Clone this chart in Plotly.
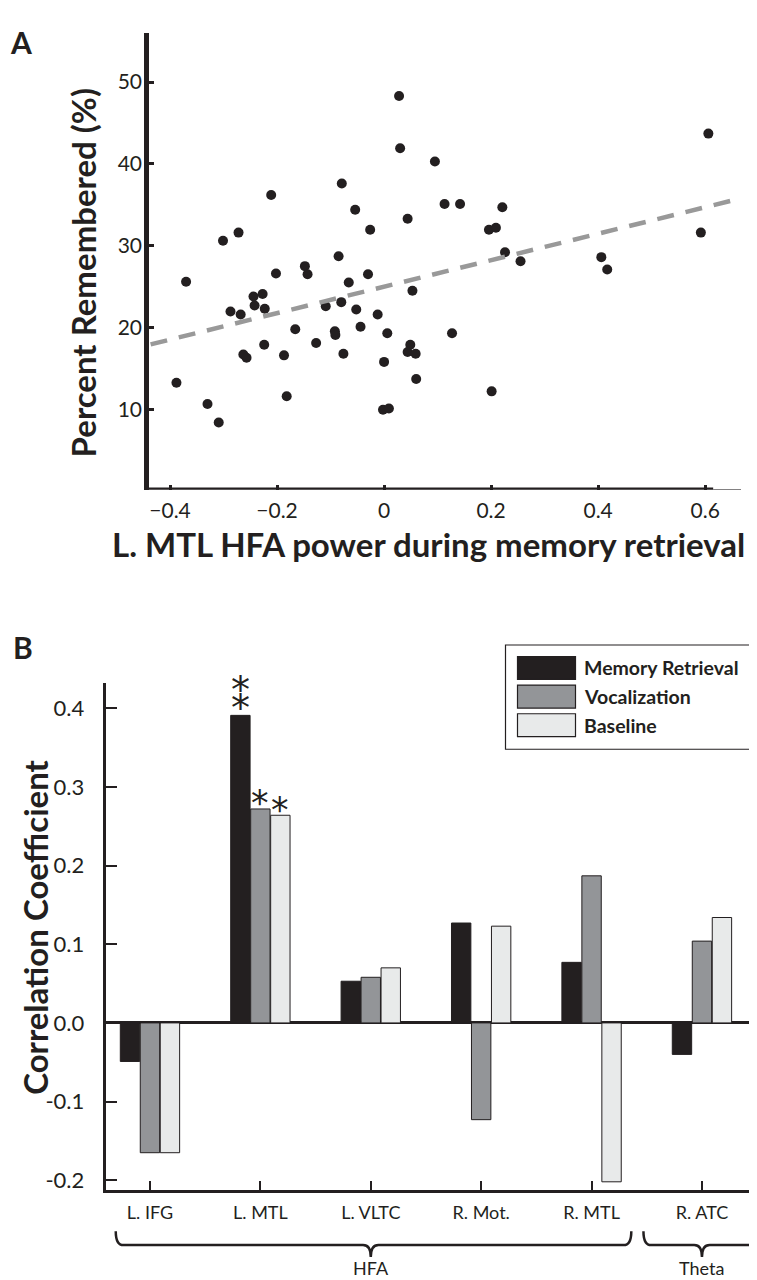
import numpy as np
import plotly.graph_objects as go

# ---------------- Panel A data ----------------
hfa_power = [0.028, 0.030, 0.095, -0.079, -0.211, -0.054, 0.044, -0.026, -0.272, -0.301,
             -0.085, 0.606, 0.113, 0.142, 0.221, 0.196, 0.209, 0.592, 0.226, 0.255,
             0.406, 0.417, 0.127, 0.201, -0.370, -0.202, -0.148, -0.143, -0.030, -0.066,
             0.053, -0.244, -0.227, -0.242, -0.223, -0.287, -0.268, -0.109, -0.080, -0.052,
             -0.012, -0.166, -0.092, -0.091, -0.044, 0.006, -0.127, -0.224, -0.187, -0.076,
             -0.263, -0.257, 0.049, 0.044, 0.059, 0.000, 0.060, -0.388, -0.182, -0.330,
             -0.002, 0.009, -0.309]
pct_remembered = [48.3, 41.9, 40.3, 37.6, 36.2, 34.4, 33.3, 31.95, 31.6, 30.6,
                  28.7, 43.7, 35.1, 35.1, 34.7, 31.95, 32.2, 31.6, 29.2, 28.1,
                  28.6, 27.1, 19.3, 12.2, 25.6, 26.6, 27.5, 26.5, 26.5, 25.5,
                  24.5, 23.8, 24.1, 22.7, 22.3, 21.95, 21.6, 22.6, 23.1, 22.2,
                  21.6, 19.8, 19.55, 19.1, 20.1, 19.3, 18.1, 17.9, 16.6, 16.8,
                  16.7, 16.3, 17.9, 17.0, 16.8, 15.8, 13.7, 13.25, 11.6, 10.65,
                  9.95, 10.1, 8.4]
a_xticks = [-0.4, -0.2, 0, 0.2, 0.4, 0.6]
a_xticklabels = ["\u22120.4", "\u22120.2", "0", "0.2", "0.4", "0.6"]
a_yticks = [10, 20, 30, 40, 50]

# ---------------- Panel B data ----------------
regions = ["L. IFG", "L. MTL", "L. VLTC", "R. Mot.", "R. MTL", "R. ATC"]
memory_retrieval = [-0.049, 0.391, 0.053, 0.127, 0.077, -0.040]
vocalization = [-0.165, 0.272, 0.058, -0.123, 0.187, 0.104]
baseline = [-0.165, 0.264, 0.070, 0.123, -0.202, 0.134]
sig_memory = ["", "**", "", "", "", ""]
sig_vocal = ["", "*", "", "", "", ""]
sig_base = ["", "*", "", "", "", ""]
b_yticks = [-0.2, -0.1, 0.0, 0.1, 0.2, 0.3, 0.4]
b_yticklabels = ["-0.2", "-0.1", "0.0", "0.1", "0.2", "0.3", "0.4"]
band_groups = [("HFA", -0.31, 4.36, 2.0), ("Theta", 4.47, 5.56, 5.0)]

# ---------------- styling ----------------
W, H = 757, 1280
INK = "#231f20"
FONT = "Lato"
C_MEM, C_VOC, C_BASE = "#231f20", "#939598", "#e8eaea"

def px(x):
    return x / W

def py(y):
    return 1 - y / H

fig = go.Figure()

# scatter
fig.add_trace(go.Scatter(
    x=hfa_power, y=pct_remembered, mode="markers",
    marker=dict(color=INK, size=10, line=dict(width=0)),
    xaxis="x", yaxis="y", showlegend=False))

A_XRANGE = [-0.4393, 0.667]
A_YRANGE = [0.16, 56.0]
slope, intercept = np.polyfit(hfa_power, pct_remembered, 1)
fx = np.array([A_XRANGE[0] + 0.003, A_XRANGE[1]])
fig.add_trace(go.Scatter(
    x=fx, y=intercept + slope * fx, mode="lines",
    line=dict(color="#999999", width=4.5, dash="17px,12px"),
    xaxis="x", yaxis="y", showlegend=False))

# bars
BARGAP = 0.457
xpos = list(range(len(regions)))
for name, vals, col in [("Memory Retrieval", memory_retrieval, C_MEM),
                        ("Vocalization", vocalization, C_VOC),
                        ("Baseline", baseline, C_BASE)]:
    fig.add_trace(go.Bar(
        x=xpos, y=vals, name=name, marker=dict(color=col, line=dict(color=INK, width=1)),
        xaxis="x2", yaxis="y2", showlegend=False))

annotations = []
slot = (1 - BARGAP) / 3
for k, sigs, vals in [(-1, sig_memory, memory_retrieval), (0, sig_vocal, vocalization), (1, sig_base, baseline)]:
    for i, s in enumerate(sigs):
        if s == "**":
            annotations.append(dict(
                x=i + k * slot, y=vals[i], xref="x2", yref="y2",
                text="\u2051", showarrow=False, xanchor="center", yanchor="bottom",
                yshift=-6, font=dict(family="DejaVu Sans", size=38, color=INK)))
        elif s:
            annotations.append(dict(
                x=i + k * slot, y=vals[i], xref="x2", yref="y2",
                text=s, showarrow=False, xanchor="center", yanchor="bottom",
                yshift=-16.5, font=dict(family="DejaVu Sans", size=35, color=INK)))

shapes = []
# panel A custom x axis line: thick then thin
shapes.append(dict(type="line", xref="x", yref="y", x0=A_XRANGE[0], x1=0.615,
                   y0=A_YRANGE[0], y1=A_YRANGE[0], line=dict(color=INK, width=4.5)))
shapes.append(dict(type="line", xref="x", yref="y", x0=0.615, x1=A_XRANGE[1],
                   y0=A_YRANGE[0], y1=A_YRANGE[0], line=dict(color=INK, width=1.2)))

# braces
yt, ym, yb = py(1226), py(1240), py(1252)
d = 0.07
for label, x0, x1, tip in band_groups:
    path = (f"M{x0},{yt} Q{x0},{ym} {x0 + d},{ym} L{tip - d},{ym} "
            f"Q{tip},{ym} {tip},{yb} Q{tip},{ym} {tip + d},{ym} "
            f"L{x1 - d},{ym} Q{x1},{ym} {x1},{yt}")
    shapes.append(dict(type="path", xref="x2", yref="paper", path=path,
                       line=dict(color=INK, width=2.5)))
    annotations.append(dict(x=tip, y=py(1263), xref="x2", yref="paper", text=label,
                            showarrow=False, xanchor="center", yanchor="middle",
                            font=dict(family=FONT, size=18, color=INK)))

# manual legend
shapes.append(dict(type="rect", xref="paper", yref="paper", x0=px(497.5), x1=px(743),
                   y0=py(743), y1=py(638.5), line=dict(color=INK, width=1.2), fillcolor="white"))
for i, (name, col) in enumerate([("Memory Retrieval", C_MEM), ("Vocalization", C_VOC), ("Baseline", C_BASE)]):
    top = 650 + i * 28.7
    shapes.append(dict(type="rect", xref="paper", yref="paper", x0=px(509.5), x1=px(567.5),
                       y0=py(top + 23), y1=py(top), fillcolor=col, line=dict(color=INK, width=1.2)))
    annotations.append(dict(x=px(574), y=py(top + 11.5), xref="paper", yref="paper",
                            text=f"<b>{name}</b>", showarrow=False, xanchor="left", yanchor="middle",
                            font=dict(family=FONT, size=19.5, color=INK)))

# titles and panel labels
def label(text, x, y, size, angle=0):
    return dict(x=px(x), y=py(y), xref="paper", yref="paper", showarrow=False,
                xanchor="center", yanchor="middle", textangle=angle,
                text=text, font=dict(family=FONT, size=size, color=INK))

annotations += [
    label("<b>L. MTL HFA power during memory retrieval</b>", 420, 537, 33),
    label("<b>Percent Remembered (%)</b>", 75, 266, 33, -90),
    label("<b>Correlation Coefficient</b>", 27, 922, 33, -90),
    label("<b>A</b>", 13, 34, 30),
    label("<b>B</b>", 15, 641, 30),
]

tickfont = dict(family=FONT, size=21, color=INK)
fig.update_layout(
    width=W, height=H, margin=dict(l=0, r=0, t=0, b=0),
    paper_bgcolor="white", plot_bgcolor="white",
    barmode="group", bargap=BARGAP, bargroupgap=0.03,
    xaxis=dict(domain=[px(141), px(733)], range=A_XRANGE, anchor="y",
               tickvals=a_xticks, ticktext=a_xticklabels, ticks="inside", ticklen=5,
               tickwidth=2.5, tickcolor=INK, showline=False, showgrid=False, zeroline=False,
               tickfont=tickfont, ticklabelstandoff=6),
    yaxis=dict(domain=[py(483), py(25)], range=A_YRANGE, anchor="x",
               tickvals=a_yticks, ticks="inside", ticklen=5, tickwidth=2.5, tickcolor=INK,
               showline=True, linewidth=4.5, linecolor=INK, showgrid=False, zeroline=False,
               tickfont=tickfont, ticklabelstandoff=-2),
    xaxis2=dict(domain=[px(97.7), 1.0], range=[-0.401, 5.571], anchor="y2",
                tickvals=xpos, ticktext=regions, ticks="inside", ticklen=9, tickwidth=2,
                tickcolor=INK, showline=True, linewidth=3, linecolor=INK, showgrid=False,
                zeroline=False, tickfont=dict(family=FONT, size=18, color=INK),
                ticklabelstandoff=4),
    yaxis2=dict(domain=[py(1185), py(676.7)], range=[-0.2127, 0.432], anchor="x2",
                tickvals=b_yticks, ticktext=b_yticklabels, ticks="inside", ticklen=11,
                tickwidth=2, tickcolor=INK, showline=True, linewidth=3, linecolor=INK,
                showgrid=False, zeroline=True, zerolinecolor=INK, zerolinewidth=2.5,
                tickfont=dict(family=FONT, size=22, color=INK), ticklabelstandoff=14),
    shapes=shapes, annotations=annotations,
)

fig.write_html("out.html")
